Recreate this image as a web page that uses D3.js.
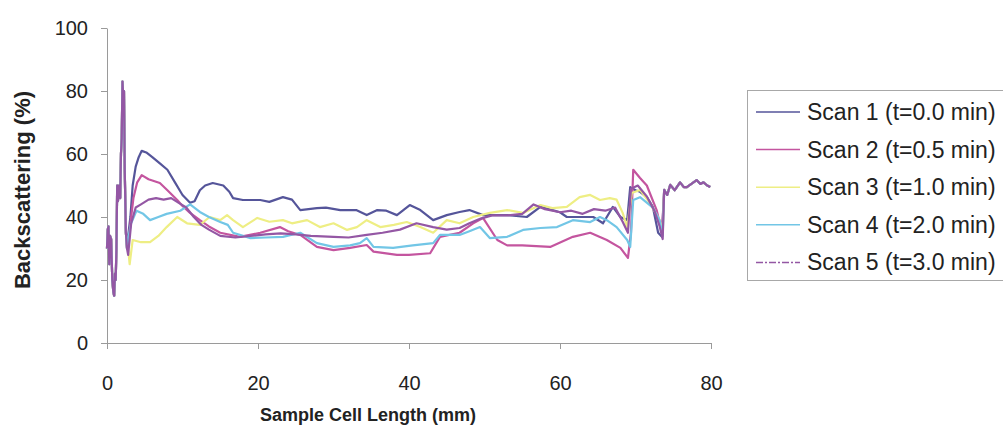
<!DOCTYPE html>
<html>
<head>
<meta charset="utf-8">
<script src="https://cdn.jsdelivr.net/npm/d3@7"></script>
<style>
  body { margin: 0; background: #fff; }
  svg { display: block; }
  text { font-family: "Liberation Sans", Arial, sans-serif; fill: #222; }
</style>
</head>
<body>
<svg id="chart" width="1003" height="433"></svg>
<script>
// Backscattering profiles along the sample cell, five scans.
const xTicks = [0, 20, 40, 60, 80];
const yTicks = [0, 20, 40, 60, 80, 100];
const seriesNames = ["Scan 1 (t=0.0 min)", "Scan 2 (t=0.5 min)", "Scan 3 (t=1.0 min)", "Scan 4 (t=2.0 min)", "Scan 5 (t=3.0 min)"];
const seriesColors = ["#55559a", "#c4559f", "#eeee84", "#72c6e6", "#9457a4"];

// Cell bottom (0–2.7 mm): all scans coincide
const headPoints = [[0, 30], [0.1, 36], [0.2, 37], [0.3, 25], [0.4, 34], [0.55, 33], [0.7, 20], [0.85, 16], [0.95, 15], [1.05, 22], [1.15, 20], [1.25, 30], [1.35, 50], [1.45, 45], [1.6, 50], [1.75, 46], [1.85, 60], [1.95, 65], [2.05, 83], [2.15, 78], [2.25, 80], [2.35, 55], [2.5, 35], [2.65, 30]];
// Cell top (73.8–80 mm): all scans coincide
const tailPoints = [[73.8, 48.6], [74.2, 47], [74.6, 50.2], [75.2, 48.5], [75.9, 51], [76.4, 49.5], [76.8, 49.5], [77.4, 50.5], [78.1, 51.7], [78.6, 50.5], [79, 51], [79.5, 50], [79.9, 49.5]];

const scan1 = [[2.8, 34], [3.1, 40], [3.4, 50], [3.8, 56], [4.2, 59], [4.6, 61], [5.2, 60.5], [6, 59], [7, 57], [8, 55], [9, 51], [10, 47], [11, 44.5], [11.6, 45], [12.3, 48.5], [13, 50], [14, 50.8], [15.4, 50], [16.2, 48], [16.7, 46], [18, 45.4], [20.3, 45.4], [21.5, 44.8], [23.3, 46.3], [24.5, 45.5], [25.6, 42.2], [27.8, 42.8], [29, 43], [30.9, 42.2], [33, 42.2], [34.4, 40.6], [35.8, 42.2], [37, 42], [38.4, 40.6], [40.1, 43.8], [41.5, 42.2], [43.2, 39], [45, 40.6], [46.7, 41.6], [48, 42.2], [49.8, 40.6], [53, 40.6], [55.6, 40], [57.4, 43.2], [59, 42.2], [60, 41.5], [60.9, 40], [64.4, 40], [65.7, 38], [67, 43.2], [68, 40], [68.9, 39], [69.3, 49.5], [70, 48.5], [70.6, 48], [71.5, 46.3], [72.3, 43.2], [73, 35], [73.5, 33.7]];
const scan2 = [[2.8, 32], [3.1, 38], [3.5, 46], [4, 51], [4.6, 53.3], [5.5, 52], [7, 50.8], [8, 48.5], [9.3, 45.4], [10, 43.5], [11, 41.3], [12.3, 39], [13.5, 37], [15, 35], [17.6, 33.7], [20.3, 35], [22.9, 36.8], [24, 35.5], [25.6, 34.3], [27.8, 30.5], [30, 29.5], [32.2, 30.2], [34.4, 31.1], [35.3, 29], [38.4, 28], [40, 28], [42.8, 28.5], [44.1, 33.7], [46.7, 35], [48.5, 38], [49.8, 39.7], [51.7, 32.7], [53, 31], [55, 31], [58.7, 30.5], [61.7, 33.7], [64, 35], [66.2, 32.7], [68, 30.2], [69, 27], [69.4, 35], [69.7, 55], [70.6, 52.4], [71.5, 50], [72.8, 42.2], [73.5, 35]];
const scan3 = [[2.8, 30], [3.0, 25], [3.4, 32.7], [4.5, 32], [5.7, 32], [6.8, 34], [7.9, 36.8], [9.3, 40], [10.6, 38], [12.3, 37.5], [13.6, 40], [15, 39], [15.9, 40.6], [16.7, 39], [18, 36.8], [19.9, 39.7], [21.5, 38.5], [23.3, 39], [24.5, 38], [26.5, 39], [28.2, 36.8], [30, 38], [31.8, 35.9], [33.1, 36.8], [34.4, 39], [36.2, 36.8], [38, 37.5], [39.7, 38.4], [41.5, 36.8], [43.2, 35], [45, 39], [46.7, 38], [48.5, 40], [50.7, 41.3], [53, 42.2], [55.1, 41.3], [57.4, 43.8], [59, 42.8], [60.9, 43.2], [62.6, 46.3], [64, 47], [65.3, 45.4], [66.6, 46], [67.5, 45.5], [68.3, 41.3], [68.9, 36.8], [69.5, 47.6], [70.6, 48.6], [71.9, 44.4], [73.2, 39], [73.6, 35]];
const scan4 = [[2.8, 33], [3.2, 38], [3.9, 42], [4.8, 41], [5.7, 39], [6.8, 40], [7.9, 41], [9.7, 42], [11, 44], [12.3, 41.6], [13.5, 40], [15, 38.4], [16, 37.5], [16.7, 35], [19, 33.3], [21, 33.5], [23.3, 33.7], [25.6, 35], [27.8, 31.7], [30, 30.5], [32.2, 31], [33.5, 31.7], [34.4, 33.3], [35.3, 30.5], [37.9, 30.2], [40.5, 31], [43.2, 31.7], [44.1, 34.3], [46.7, 34.3], [48, 35.5], [49.4, 36.8], [50.7, 33.3], [53, 33.7], [55.1, 35.9], [57.4, 36.5], [59.6, 36.8], [61.7, 39], [64, 38.4], [65.3, 40], [66.2, 39], [67.5, 36.8], [68.9, 32.7], [69.3, 30.5], [69.7, 45.4], [70.6, 46.3], [72.3, 43], [73.2, 39], [73.6, 34]];
const scan5 = [[2.8, 28], [3.2, 38], [3.8, 43], [4.5, 44], [5.5, 45.5], [6.5, 46], [7.5, 45.5], [8.5, 46], [9.5, 44.5], [10.5, 43], [11.5, 40], [12.5, 37.5], [13.5, 36], [15, 34], [17, 33.5], [19, 34], [21, 34.5], [23, 34.8], [25, 34.5], [27, 34], [30, 33.7], [32, 33.5], [34.4, 34.3], [36.5, 35], [38.8, 36], [41, 38], [43.2, 36.8], [45, 36], [46.7, 36.5], [48, 38], [49.5, 39.5], [51, 40.5], [53, 40.5], [55, 41], [56.5, 44], [58, 42.5], [60, 41.5], [61.5, 42], [63, 41], [64.5, 42.5], [66, 42], [67.3, 43], [68.3, 38.5], [69, 35], [69.4, 49], [70.3, 50], [71.5, 46.5], [72.5, 42], [73.2, 37], [73.6, 33]];

const scans = [scan1, scan2, scan3, scan4, scan5].map(s => headPoints.concat(s, tailPoints));

const svg = d3.select("#chart");
const x = d3.scaleLinear().domain([0, 80]).range([107, 711]);
const y = d3.scaleLinear().domain([0, 100]).range([343, 28]);

const axisColor = "#9a9a9a";

// Y axis
const gy = svg.append("g").attr("transform", "translate(107,0)")
  .call(d3.axisLeft(y).tickValues(yTicks).tickSize(6).tickSizeOuter(0).tickPadding(13));
gy.select(".domain").attr("stroke", axisColor);
gy.selectAll(".tick line").attr("stroke", axisColor);
gy.selectAll(".tick text").attr("font-size", 20).attr("fill", "#222")
  .attr("font-family", "'Liberation Sans', Arial, sans-serif");

// X axis
const gx = svg.append("g").attr("transform", "translate(0,343)")
  .call(d3.axisBottom(x).tickValues(xTicks).tickSize(6).tickSizeOuter(0).tickPadding(27));
gx.select(".domain").attr("stroke", axisColor);
gx.selectAll(".tick line").attr("stroke", axisColor);
gx.selectAll(".tick text").attr("font-size", 20).attr("fill", "#222")
  .attr("font-family", "'Liberation Sans', Arial, sans-serif");

// Axis titles
svg.append("text")
  .attr("transform", "translate(30,190) rotate(-90)")
  .attr("text-anchor", "middle")
  .attr("font-size", 22).attr("font-weight", "bold")
  .text("Backscattering (%)");
svg.append("text")
  .attr("x", 368).attr("y", 421)
  .attr("text-anchor", "middle")
  .attr("font-size", 18).attr("font-weight", "bold")
  .text("Sample Cell Length (mm)");

// Profiles
const line = d3.line().x(d => x(d[0])).y(d => y(d[1]));
svg.append("g").selectAll("path")
  .data(scans)
  .join("path")
  .attr("d", line)
  .attr("fill", "none")
  .attr("stroke", (d, i) => seriesColors[i])
  .attr("stroke-width", 2.2)
  .attr("stroke-linejoin", "round");

// Legend
const lg = svg.append("g");
lg.append("rect")
  .attr("x", 747.5).attr("y", 90.5).attr("width", 270).attr("height", 190)
  .attr("fill", "#fff").attr("stroke", "#a8a8a8");
const rows = lg.selectAll("g.row").data(seriesNames).join("g")
  .attr("class", "row")
  .attr("transform", (d, i) => `translate(0,${112 + i * 37.6})`);
rows.append("line")
  .attr("x1", 756).attr("x2", 800).attr("y1", 0).attr("y2", 0)
  .attr("stroke", (d, i) => seriesColors[i])
  .attr("stroke-width", 1.5)
  .attr("stroke-dasharray", (d, i) => i === 4 ? "7,2,2,2" : null);
rows.append("text")
  .attr("x", 807).attr("y", 0).attr("dy", "0.35em")
  .attr("font-size", 23)
  .text(d => d);
</script>
</body>
</html>
